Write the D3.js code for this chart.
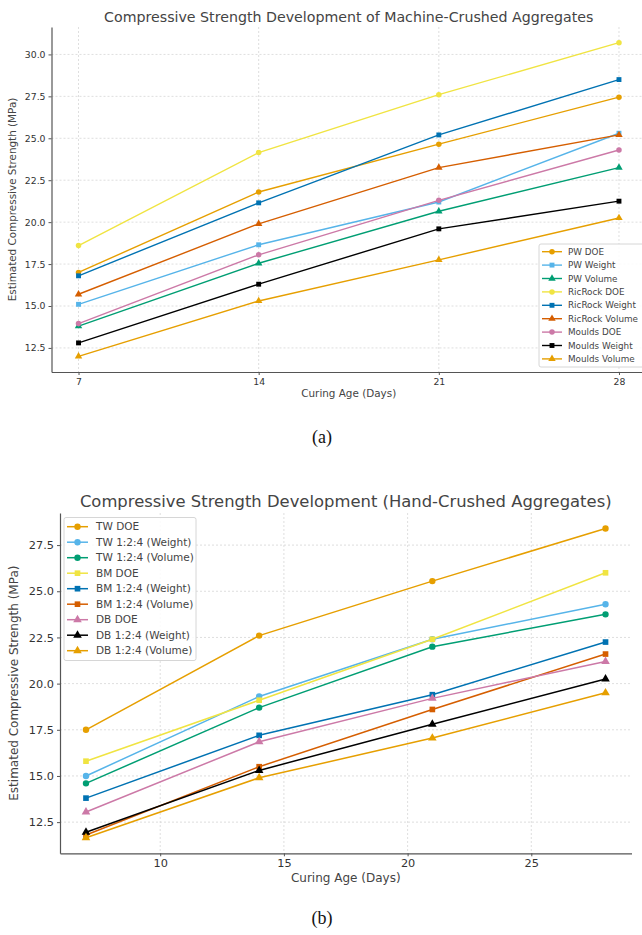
<!DOCTYPE html>
<html>
<head>
<meta charset="utf-8">
<script src="https://cdn.jsdelivr.net/npm/d3@7"></script>
<style>
	body { margin: 0; background: #fff; }
	svg { display: block; font-family: "DejaVu Sans", sans-serif; }
	.grid line { stroke: #d6d6d6; stroke-width: 0.8; stroke-dasharray: 2,2; }
	.axis path, .axis line { stroke: #555; }
	.axis text { fill: #333; }
</style>
</head>
<body>
<div id="chart"></div>
<script>
// curing ages (days)
var days = [7, 14, 21, 28];

// (a) machine-crushed aggregates
var machineSeries = ["PW DOE", "PW Weight", "PW Volume", "RicRock DOE", "RicRock Weight",
	"RicRock Volume", "Moulds DOE", "Moulds Weight", "Moulds Volume"];
var machineValues = [
	[17.0, 21.8, 24.65, 27.45],
	[15.1, 18.65, 21.2, 25.3],
	[13.8, 17.55, 20.65, 23.25],
	[18.6, 24.15, 27.6, 30.7],
	[16.8, 21.15, 25.2, 28.5],
	[15.7, 19.9, 23.25, 25.2],
	[13.95, 18.05, 21.3, 24.3],
	[12.8, 16.3, 19.6, 21.25],
	[12.0, 15.3, 17.75, 20.25]
];
var machineShapes = ["circle", "square", "triangle", "circle", "square", "triangle", "circle", "square", "triangle"];
var machineXTicks = [7, 14, 21, 28];
var machineYTicks = [12.5, 15, 17.5, 20, 22.5, 25, 27.5, 30];

// (b) hand-crushed aggregates
var handSeries = ["TW DOE", "TW 1:2:4 (Weight)", "TW 1:2:4 (Volume)", "BM DOE", "BM 1:2:4 (Weight)",
	"BM 1:2:4 (Volume)", "DB DOE", "DB 1:2:4 (Weight)", "DB 1:2:4 (Volume)"];
var handValues = [
	[17.5, 22.6, 25.55, 28.4],
	[15.0, 19.3, 22.4, 24.3],
	[14.6, 18.7, 22.0, 23.75],
	[15.8, 19.1, 22.4, 26.0],
	[13.8, 17.2, 19.4, 22.25],
	[11.8, 15.5, 18.6, 21.6],
	[13.05, 16.85, 19.2, 21.2],
	[11.95, 15.3, 17.8, 20.25],
	[11.65, 14.9, 17.05, 19.5]
];
var handShapes = ["circle", "circle", "circle", "square", "square", "square", "triangle", "triangle", "triangle"];
var handXTicks = [10, 15, 20, 25];
var handYTicks = [12.5, 15, 17.5, 20, 22.5, 25, 27.5];

var palette = ["#E69F00", "#56B4E9", "#009E73", "#F0E442", "#0072B2", "#D55E00", "#CC79A7", "#000000", "#E69F00"];
var symbols = { circle: d3.symbolCircle, square: d3.symbolSquare, triangle: d3.symbolTriangle };

var svg = d3.select("#chart").append("svg")
	.attr("width", 642)
	.attr("height", 935);

function padded(extent){
	var pad = (extent[1] - extent[0]) * 0.05;
	return [extent[0] - pad, extent[1] + pad];
}

function lineChart(opt){
	var g = svg.append("g");
	var all = d3.merge(opt.values);

	var x = d3.scaleLinear().domain(padded(d3.extent(days))).range([opt.left, opt.right]);
	var y = d3.scaleLinear().domain(padded(d3.extent(all))).range([opt.bottom, opt.top]);

	// grid
	var grid = g.append("g").attr("class", "grid");
	grid.selectAll(".gx").data(opt.xTicks)
		.enter().append("line")
			.attr("x1", d => x(d)).attr("x2", d => x(d))
			.attr("y1", opt.top).attr("y2", opt.bottom);
	grid.selectAll(".gy").data(opt.yTicks)
		.enter().append("line")
			.attr("x1", opt.left).attr("x2", opt.right)
			.attr("y1", d => y(d)).attr("y2", d => y(d));

	// axes
	g.append("g")
		.attr("class", "axis")
		.attr("transform", "translate(0," + opt.bottom + ")")
		.call(d3.axisBottom(x).tickValues(opt.xTicks).tickSize(3).tickSizeOuter(0).tickPadding(3));
	g.append("g")
		.attr("class", "axis")
		.attr("transform", "translate(" + opt.left + ",0)")
		.call(d3.axisLeft(y).tickValues(opt.yTicks).tickFormat(d3.format(".1f")).tickSize(3).tickSizeOuter(0).tickPadding(3));
	g.selectAll(".axis text").style("font-size", opt.tickSize + "px").style("font-family", "DejaVu Sans");
	g.selectAll(".axis path").attr("stroke-width", 1.2);

	// titles
	g.append("text")
		.attr("x", (opt.left + opt.right) / 2)
		.attr("y", opt.titleY)
		.attr("text-anchor", "middle")
		.style("font-size", opt.titleSize + "px")
		.style("fill", "#444")
		.text(opt.title);

	g.append("text")
		.attr("x", (opt.left + opt.right) / 2)
		.attr("y", opt.xLabelY)
		.attr("text-anchor", "middle")
		.style("font-size", opt.labelSize + "px")
		.style("fill", "#444")
		.text("Curing Age (Days)");

	g.append("text")
		.attr("transform", "translate(" + opt.yLabelX + "," + (opt.top + opt.bottom) / 2 + ") rotate(-90)")
		.attr("text-anchor", "middle")
		.style("font-size", opt.labelSize + "px")
		.style("fill", "#444")
		.text("Estimated Compressive Strength (MPa)");

	// series
	var line = d3.line()
		.x((d, i) => x(days[i]))
		.y(d => y(d));

	var series = g.append("g")
			.selectAll("g")
			.data(opt.values)
		.enter().append("g");

	series.append("path")
		.attr("d", d => line(d))
		.attr("fill", "none")
		.attr("stroke", (d, i) => palette[i])
		.attr("stroke-width", opt.lineWidth);

	series.each(function(vals, i){
		d3.select(this).selectAll("path.pt")
				.data(vals)
			.enter().append("path")
				.attr("class", "pt")
				.attr("transform", (d, j) => "translate(" + x(days[j]) + "," + y(d) + ")")
				.attr("d", d3.symbol().type(symbols[opt.shapes[i]]).size(opt.markerArea))
				.attr("fill", palette[i]);
	});

	// legend
	var lg = opt.legend;
	var legend = g.append("g");
	legend.append("rect")
		.attr("x", lg.x).attr("y", lg.y)
		.attr("width", lg.w).attr("height", lg.h)
		.attr("rx", 2)
		.attr("fill", "#fff")
		.attr("fill-opacity", 0.85)
		.attr("stroke", "#d6d6d6");

	var rows = legend.selectAll("g.row")
			.data(opt.names)
		.enter().append("g")
			.attr("transform", (d, i) => "translate(" + (lg.x + 3) + "," + (lg.first + i * lg.step) + ")");

	rows.append("line")
		.attr("x1", 0).attr("x2", lg.handle)
		.attr("stroke", (d, i) => palette[i])
		.attr("stroke-width", opt.lineWidth);
	rows.append("path")
		.attr("transform", "translate(" + lg.handle / 2 + ",0)")
		.attr("d", (d, i) => d3.symbol().type(symbols[opt.shapes[i]]).size(opt.markerArea)())
		.attr("fill", (d, i) => palette[i]);
	rows.append("text")
		.attr("x", lg.handle + lg.gap)
		.attr("dy", "0.35em")
		.style("font-size", lg.fontSize + "px")
		.style("fill", "#444")
		.text(d => d);
}

lineChart({
	values: machineValues, names: machineSeries, shapes: machineShapes,
	xTicks: machineXTicks, yTicks: machineYTicks,
	left: 51.5, right: 646, top: 27, bottom: 372,
	title: "Compressive Strength Development of Machine-Crushed Aggregates",
	titleY: 21.5, titleSize: 14.2, tickSize: 9.3, labelSize: 10.4,
	xLabelY: 397, yLabelX: 16, lineWidth: 1.4, markerArea: 24,
	legend: { x: 539, y: 244, w: 105, h: 123, first: 251.7, step: 13.4, handle: 20, gap: 6, fontSize: 8.8 }
});

lineChart({
	values: handValues, names: handSeries, shapes: handShapes,
	xTicks: handXTicks, yTicks: handYTicks,
	left: 60, right: 631.5, top: 513, bottom: 853.3,
	title: "Compressive Strength Development (Hand-Crushed Aggregates)",
	titleY: 507, titleSize: 16.4, tickSize: 11.3, labelSize: 12,
	xLabelY: 882, yLabelX: 18, lineWidth: 1.5, markerArea: 32,
	legend: { x: 64, y: 517.5, w: 132, h: 143, first: 526.7, step: 15.5, handle: 21, gap: 8, fontSize: 10.5 }
});

// panel captions
svg.selectAll("text.caption")
		.data(["(a)", "(b)"])
	.enter().append("text")
		.attr("class", "caption")
		.attr("x", 322)
		.attr("y", (d, i) => i ? 924 : 443)
		.attr("text-anchor", "middle")
		.style("font-family", "Liberation Serif, serif")
		.style("font-size", "18px")
		.style("fill", "#111")
		.text(d => d);
</script>
</body>
</html>
